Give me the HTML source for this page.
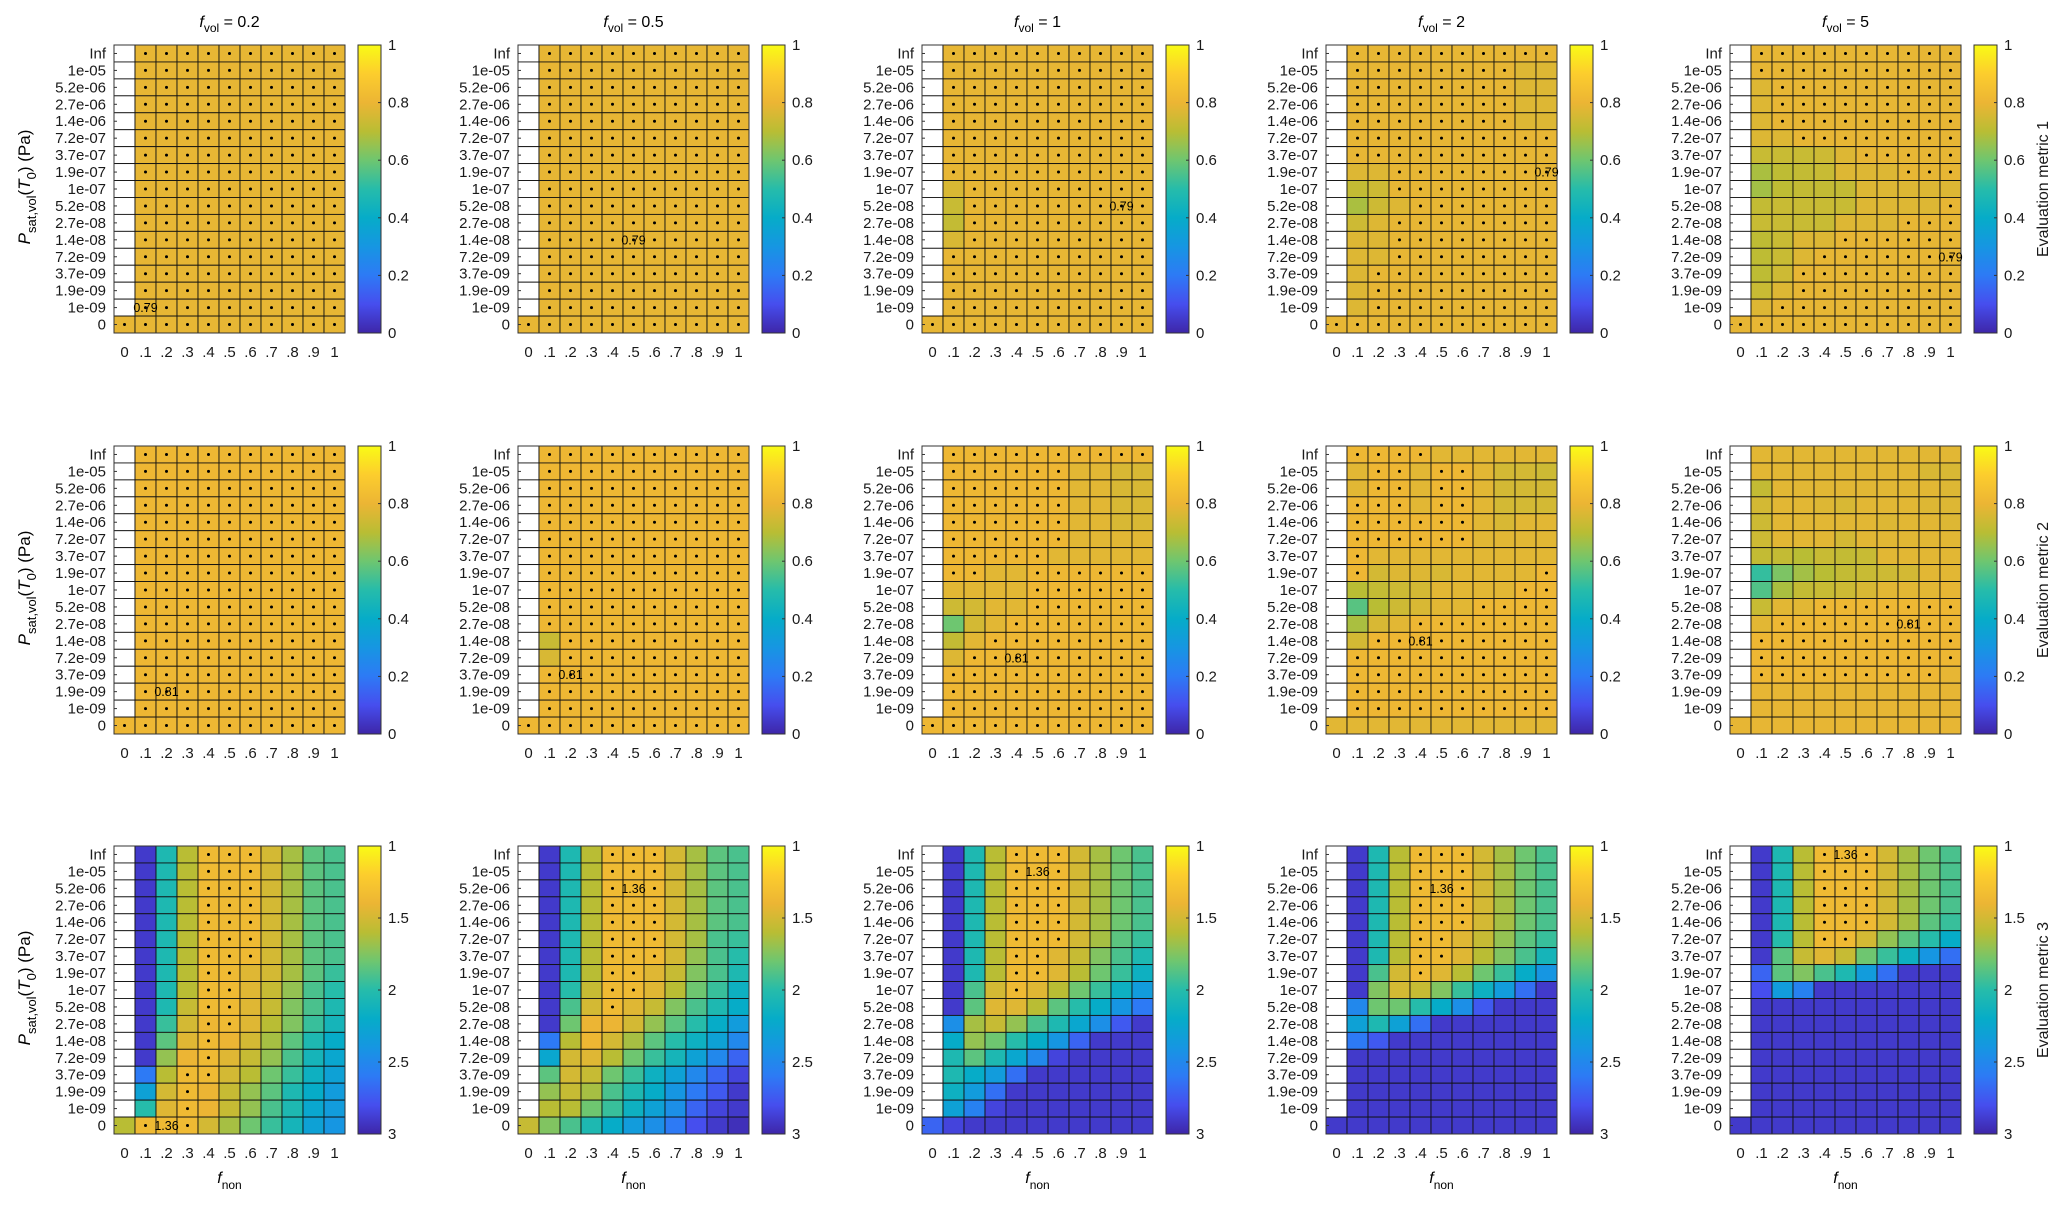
<!DOCTYPE html>
<html><head><meta charset="utf-8"><style>
html,body{margin:0;padding:0;background:#fff;}
svg{display:block;font-family:"Liberation Sans",Arial,sans-serif;}
</style></head><body>
<svg id="fig" width="2067" height="1212" viewBox="0 0 2067 1212" xmlns="http://www.w3.org/2000/svg"></svg>
<script>
const _ = null;
const yCategories = ['Inf','1e-05','5.2e-06','2.7e-06','1.4e-06','7.2e-07','3.7e-07','1.9e-07','1e-07','5.2e-08','2.7e-08','1.4e-08','7.2e-09','3.7e-09','1.9e-09','1e-09','0'];
const xCategories = ['0','.1','.2','.3','.4','.5','.6','.7','.8','.9','1'];
const fvolTitles = ['0.2','0.5','1','2','5'];
const metricNames = ['Evaluation metric 1','Evaluation metric 2','Evaluation metric 3'];
const cbTicks12 = [0,0.2,0.4,0.6,0.8,1];
const cbTicks3 = [1,1.5,2,2.5,3];

const A='.xxxxxxxxxx', F='xxxxxxxxxxx';
// ---------- metric 1 ----------
const m1p1 = [[_,.79,.79,.79,.79,.79,.79,.79,.79,.79,.79],[_,.79,.79,.79,.79,.79,.79,.79,.79,.79,.79],[_,.79,.79,.79,.79,.79,.79,.79,.79,.79,.79],[_,.79,.79,.79,.79,.79,.79,.79,.79,.79,.79],[_,.79,.79,.79,.79,.79,.79,.79,.79,.79,.79],[_,.79,.79,.79,.79,.79,.79,.79,.79,.79,.79],[_,.79,.79,.79,.79,.79,.79,.79,.79,.79,.79],[_,.79,.79,.79,.79,.79,.79,.79,.79,.79,.79],[_,.79,.79,.79,.79,.79,.79,.79,.79,.79,.79],[_,.79,.79,.79,.79,.79,.79,.79,.79,.79,.79],[_,.79,.79,.79,.79,.79,.79,.79,.79,.79,.79],[_,.79,.79,.79,.79,.79,.79,.79,.79,.79,.79],[_,.79,.79,.79,.79,.79,.79,.79,.79,.79,.79],[_,.79,.79,.79,.79,.79,.79,.79,.79,.79,.79],[_,.79,.79,.79,.79,.79,.79,.79,.79,.79,.79],[_,.79,.79,.79,.79,.79,.79,.79,.79,.79,.79],[.79,.79,.79,.79,.79,.79,.79,.79,.79,.79,.79]];
const m1p1dots = [A,A,A,A,A,A,A,A,A,A,A,A,A,A,A,A,F];
const m1p2 = m1p1.map(r=>r.slice());
const m1p2dots = m1p1dots.slice();
const m1p3 = [[_,.79,.79,.79,.79,.79,.79,.79,.79,.79,.79],[_,.79,.79,.79,.79,.79,.79,.79,.79,.79,.79],[_,.79,.79,.79,.79,.79,.79,.79,.79,.79,.79],[_,.79,.79,.79,.79,.79,.79,.79,.79,.79,.79],[_,.79,.79,.79,.79,.79,.79,.79,.79,.79,.79],[_,.79,.79,.79,.79,.79,.79,.79,.79,.79,.79],[_,.79,.79,.79,.79,.79,.79,.79,.79,.79,.79],[_,.79,.79,.79,.79,.79,.79,.79,.79,.79,.79],[_,.76,.79,.79,.79,.79,.79,.79,.79,.79,.79],[_,.73,.79,.79,.79,.79,.79,.79,.79,.79,.79],[_,.72,.79,.79,.79,.79,.79,.79,.79,.79,.79],[_,.76,.79,.79,.79,.79,.79,.79,.79,.79,.79],[_,.79,.79,.79,.79,.79,.79,.79,.79,.79,.79],[_,.79,.79,.79,.79,.79,.79,.79,.79,.79,.79],[_,.79,.79,.79,.79,.79,.79,.79,.79,.79,.79],[_,.79,.79,.79,.79,.79,.79,.79,.79,.79,.79],[.79,.79,.79,.79,.79,.79,.79,.79,.79,.79,.79]];
const m1p3dots = [A,A,A,A,A,A,A,A,'..xxxxxxxxx','..xxxxxxxxx','..xxxxxxxxx','..xxxxxxxxx',A,A,A,A,F];
const m1p4 = [[_,.79,.79,.79,.79,.79,.79,.79,.79,.79,.79],[_,.79,.79,.79,.79,.79,.79,.79,.79,.77,.77],[_,.79,.79,.79,.79,.79,.79,.79,.79,.77,.77],[_,.79,.79,.79,.79,.79,.79,.79,.79,.77,.77],[_,.79,.79,.79,.79,.79,.79,.79,.79,.77,.77],[_,.79,.79,.79,.79,.79,.79,.79,.79,.79,.79],[_,.79,.79,.79,.79,.79,.79,.79,.79,.79,.79],[_,.77,.77,.79,.79,.79,.79,.79,.79,.79,.79],[_,.72,.74,.79,.79,.79,.79,.79,.79,.79,.79],[_,.68,.74,.77,.79,.79,.79,.79,.79,.79,.79],[_,.74,.77,.79,.79,.79,.79,.79,.79,.79,.79],[_,.77,.77,.79,.79,.79,.79,.79,.79,.79,.79],[_,.77,.77,.79,.79,.79,.79,.79,.79,.79,.79],[_,.77,.79,.79,.79,.79,.79,.79,.79,.79,.79],[_,.77,.79,.79,.79,.79,.79,.79,.79,.79,.79],[_,.77,.79,.79,.79,.79,.79,.79,.79,.79,.79],[.79,.79,.79,.79,.79,.79,.79,.79,.79,.79,.79]];
const m1p4dots = [A,'.xxxxxxxx..','.xxxxxxxx..','.xxxxxxxx..','.xxxxxxxx..',A,A,'...xxxxxxxx','...xxxxxxxx','....xxxxxxx','...xxxxxxxx','...xxxxxxxx','...xxxxxxxx','..xxxxxxxxx','..xxxxxxxxx','..xxxxxxxxx',F];
const m1p5 = [[_,.79,.79,.79,.79,.79,.79,.79,.79,.79,.79],[_,.79,.79,.79,.79,.79,.79,.79,.79,.79,.79],[_,.77,.79,.79,.79,.79,.79,.79,.79,.79,.79],[_,.77,.79,.79,.79,.79,.79,.79,.79,.79,.79],[_,.77,.79,.79,.79,.79,.79,.79,.79,.79,.79],[_,.77,.77,.79,.79,.79,.79,.79,.79,.79,.79],[_,.73,.73,.73,.74,.77,.79,.79,.79,.79,.79],[_,.68,.71,.72,.73,.77,.77,.77,.79,.79,.79],[_,.67,.71,.72,.72,.72,.77,.77,.77,.77,.77],[_,.72,.73,.73,.73,.73,.77,.77,.77,.77,.79],[_,.73,.73,.73,.73,.77,.77,.77,.79,.79,.79],[_,.71,.73,.77,.77,.79,.79,.79,.79,.79,.79],[_,.71,.73,.77,.79,.79,.79,.79,.79,.79,.79],[_,.71,.74,.79,.79,.79,.79,.79,.79,.79,.79],[_,.73,.77,.79,.79,.79,.79,.79,.79,.79,.79],[_,.77,.79,.79,.79,.79,.79,.79,.79,.79,.79],[.79,.79,.79,.79,.79,.79,.79,.79,.79,.79,.79]];
const m1p5dots = [A,A,'..xxxxxxxxx','..xxxxxxxxx','..xxxxxxxxx','...xxxxxxxx','......xxxxx','........xxx','...........','..........x','........xxx','.....xxxxxx','....xxxxxxx','...xxxxxxxx','...xxxxxxxx','..xxxxxxxxx',F];
// ---------- metric 2 ----------
const m2p1 = [[_,.81,.81,.81,.81,.81,.81,.81,.81,.81,.81],[_,.81,.81,.81,.81,.81,.81,.81,.81,.81,.81],[_,.81,.81,.81,.81,.81,.81,.81,.81,.81,.81],[_,.81,.81,.81,.81,.81,.81,.81,.81,.81,.81],[_,.81,.81,.81,.81,.81,.81,.81,.81,.81,.81],[_,.81,.81,.81,.81,.81,.81,.81,.81,.81,.81],[_,.81,.81,.81,.81,.81,.81,.81,.81,.81,.81],[_,.81,.81,.81,.81,.81,.81,.81,.81,.81,.81],[_,.81,.81,.81,.81,.81,.81,.81,.81,.81,.81],[_,.81,.81,.81,.81,.81,.81,.81,.81,.81,.81],[_,.81,.81,.81,.81,.81,.81,.81,.81,.81,.81],[_,.81,.81,.81,.81,.81,.81,.81,.81,.81,.81],[_,.81,.81,.81,.81,.81,.81,.81,.81,.81,.81],[_,.81,.81,.81,.81,.81,.81,.81,.81,.81,.81],[_,.81,.81,.81,.81,.81,.81,.81,.81,.81,.81],[_,.81,.81,.81,.81,.81,.81,.81,.81,.81,.81],[.81,.81,.81,.81,.81,.81,.81,.81,.81,.81,.81]];
const m2p1dots = [A,A,A,A,A,A,A,A,A,A,A,A,A,A,A,A,F];
const m2p2 = [[_,.81,.81,.81,.81,.81,.81,.81,.81,.81,.81],[_,.81,.81,.81,.81,.81,.81,.81,.81,.81,.81],[_,.81,.81,.81,.81,.81,.81,.81,.81,.81,.81],[_,.81,.81,.81,.81,.81,.81,.81,.81,.81,.81],[_,.81,.81,.81,.81,.81,.81,.81,.81,.81,.81],[_,.81,.81,.81,.81,.81,.81,.81,.81,.81,.81],[_,.81,.81,.81,.81,.81,.81,.81,.81,.81,.81],[_,.81,.81,.81,.81,.81,.81,.81,.81,.81,.81],[_,.81,.81,.81,.81,.81,.81,.81,.81,.81,.81],[_,.81,.81,.81,.81,.81,.81,.81,.81,.81,.81],[_,.81,.81,.81,.81,.81,.81,.81,.81,.81,.81],[_,.73,.81,.81,.81,.81,.81,.81,.81,.81,.81],[_,.76,.81,.81,.81,.81,.81,.81,.81,.81,.81],[_,.81,.81,.81,.81,.81,.81,.81,.81,.81,.81],[_,.81,.81,.81,.81,.81,.81,.81,.81,.81,.81],[_,.81,.81,.81,.81,.81,.81,.81,.81,.81,.81],[.81,.81,.81,.81,.81,.81,.81,.81,.81,.81,.81]];
const m2p2dots = [A,A,A,A,A,A,A,A,A,A,A,'..xxxxxxxxx','..xxxxxxxxx',A,A,A,F];
const m2p3 = [[_,.81,.81,.81,.81,.81,.81,.81,.81,.81,.81],[_,.81,.81,.81,.81,.81,.81,.78,.78,.76,.76],[_,.81,.81,.81,.81,.81,.81,.78,.78,.76,.76],[_,.81,.81,.81,.81,.81,.81,.78,.78,.76,.76],[_,.81,.81,.81,.81,.81,.81,.78,.78,.76,.76],[_,.81,.81,.81,.81,.81,.81,.78,.78,.78,.78],[_,.81,.81,.81,.81,.81,.78,.78,.78,.78,.78],[_,.81,.81,.78,.78,.81,.81,.81,.81,.81,.81],[_,.78,.78,.78,.78,.81,.81,.81,.81,.81,.81],[_,.74,.75,.78,.78,.81,.81,.81,.81,.81,.81],[_,.6,.75,.78,.81,.81,.81,.81,.81,.81,.81],[_,.72,.78,.81,.81,.81,.81,.81,.81,.81,.81],[_,.77,.81,.81,.81,.81,.81,.81,.81,.81,.81],[_,.81,.81,.81,.81,.81,.81,.81,.81,.81,.81],[_,.81,.81,.81,.81,.81,.81,.81,.81,.81,.81],[_,.81,.81,.81,.81,.81,.81,.81,.81,.81,.81],[.81,.81,.81,.81,.81,.81,.81,.81,.81,.81,.81]];
const m2p3dots = [A,'.xxxxxx....','.xxxxxx....','.xxxxxx....','.xxxxxx....','.xxxxxx....','.xxxxx.....','.xx..xxxxxx','.....xxxxxx','.....xxxxxx','....xxxxxxx','...xxxxxxxx','..xxxxxxxxx',A,A,A,F];
const m2p4 = [[_,.81,.81,.81,.81,.78,.78,.78,.78,.78,.78],[_,.78,.81,.81,.78,.81,.81,.78,.75,.75,.74],[_,.78,.81,.81,.78,.81,.81,.78,.75,.75,.75],[_,.81,.81,.81,.78,.81,.81,.78,.75,.75,.75],[_,.81,.81,.81,.81,.81,.81,.78,.76,.78,.78],[_,.81,.81,.81,.81,.81,.81,.78,.78,.78,.78],[_,.81,.78,.78,.78,.78,.78,.78,.78,.78,.78],[_,.81,.75,.77,.77,.76,.78,.78,.78,.78,.81],[_,.7,.72,.74,.75,.78,.78,.78,.78,.81,.81],[_,.57,.7,.74,.76,.78,.78,.81,.81,.81,.81],[_,.68,.76,.78,.81,.81,.81,.81,.81,.81,.81],[_,.75,.81,.81,.81,.81,.81,.81,.81,.81,.81],[_,.81,.81,.81,.81,.81,.81,.81,.81,.81,.81],[_,.81,.81,.81,.81,.81,.81,.81,.81,.81,.81],[_,.81,.81,.81,.81,.81,.81,.81,.81,.81,.81],[_,.81,.81,.81,.81,.81,.81,.81,.81,.81,.81],[.78,.78,.78,.78,.78,.78,.78,.78,.78,.78,.78]];
const m2p4dots = ['.xxxx......','..xx.xx....','..xx.xx....','.xxx.xx....','.xxxxxx....','.xxxxxx....','.x.........','.x........x','.........xx','.......xxxx','....xxxxxxx','..xxxxxxxxx',A,A,A,A,'...........'];
const m2p5 = [[_,.78,.78,.78,.78,.78,.78,.78,.78,.78,.78],[_,.78,.78,.78,.78,.78,.78,.78,.78,.76,.76],[_,.72,.78,.78,.78,.78,.78,.78,.78,.78,.77],[_,.75,.78,.78,.77,.76,.78,.78,.78,.77,.77],[_,.74,.78,.78,.78,.78,.78,.77,.78,.78,.77],[_,.74,.78,.78,.78,.75,.78,.78,.78,.78,.78],[_,.72,.72,.7,.73,.72,.73,.78,.78,.78,.78],[_,.52,.62,.67,.7,.72,.73,.74,.75,.78,.78],[_,.56,.68,.72,.73,.74,.76,.78,.78,.78,.79],[_,.73,.78,.78,.81,.81,.81,.81,.81,.81,.81],[_,.78,.81,.81,.81,.81,.81,.81,.81,.81,.81],[_,.81,.81,.81,.81,.81,.81,.81,.81,.81,.81],[_,.81,.81,.81,.81,.81,.81,.81,.81,.81,.81],[_,.81,.81,.81,.81,.81,.81,.81,.81,.81,.79],[_,.79,.79,.79,.79,.79,.79,.79,.79,.79,.79],[_,.79,.79,.79,.79,.79,.79,.79,.79,.79,.79],[.79,.79,.79,.79,.79,.79,.79,.79,.79,.79,.79]];
const m2p5dots = ['...........','...........','...........','...........','...........','...........','...........','...........','...........','....xxxxxxx','..xxxxxxxxx',A,A,'.xxxxxxxxx.','...........','...........','...........'];
// ---------- metric 3 ----------
const m3p1 = [[_,2.9,2.05,1.6,1.36,1.36,1.36,1.5,1.65,1.85,1.9],[_,2.9,2.05,1.6,1.36,1.36,1.36,1.5,1.65,1.85,1.9],[_,2.9,2.05,1.6,1.36,1.36,1.36,1.5,1.65,1.85,1.9],[_,2.9,2.05,1.6,1.36,1.36,1.36,1.5,1.65,1.85,1.9],[_,2.9,2.05,1.6,1.36,1.36,1.36,1.5,1.65,1.85,1.9],[_,2.9,2.05,1.6,1.36,1.36,1.36,1.5,1.65,1.85,1.9],[_,2.9,2.05,1.6,1.36,1.36,1.36,1.5,1.65,1.85,1.9],[_,2.9,2.05,1.6,1.36,1.36,1.45,1.5,1.65,1.85,1.95],[_,2.9,2.05,1.6,1.36,1.36,1.45,1.55,1.7,1.9,2.0],[_,2.9,2.05,1.55,1.36,1.36,1.45,1.55,1.75,1.9,2.05],[_,2.9,1.95,1.5,1.38,1.36,1.45,1.6,1.75,1.95,2.1],[_,2.9,1.85,1.45,1.36,1.4,1.5,1.65,1.85,2.05,2.2],[_,2.9,1.7,1.4,1.36,1.45,1.55,1.7,1.9,2.1,2.25],[_,2.6,1.6,1.36,1.36,1.5,1.6,1.8,1.95,2.15,2.3],[_,2.3,1.5,1.36,1.4,1.55,1.7,1.85,2.05,2.2,2.35],[_,2.0,1.45,1.36,1.4,1.55,1.7,1.9,2.05,2.25,2.35],[1.6,1.36,1.36,1.36,1.5,1.65,1.8,1.95,2.1,2.3,2.4]];
const m3p1dots = ['....xxx....','....xxx....','....xxx....','....xxx....','....xxx....','....xxx....','....xxx....','....xx.....','....xx.....','....xx.....','....xx.....','....x......','....x......','...xx......','...x.......','...x.......','.x.x.......'];
const m3p2 = [[_,2.9,2.05,1.6,1.36,1.36,1.36,1.5,1.65,1.85,1.9],[_,2.9,2.05,1.6,1.36,1.36,1.36,1.5,1.65,1.85,1.9],[_,2.9,2.05,1.6,1.36,1.36,1.36,1.5,1.65,1.85,1.9],[_,2.9,2.05,1.6,1.36,1.36,1.36,1.5,1.65,1.85,1.9],[_,2.9,2.05,1.6,1.36,1.36,1.36,1.5,1.65,1.85,1.9],[_,2.9,2.05,1.6,1.36,1.36,1.36,1.5,1.65,1.9,1.95],[_,2.9,2.05,1.6,1.36,1.36,1.36,1.5,1.7,1.9,2.0],[_,2.9,2.05,1.6,1.36,1.36,1.45,1.55,1.75,1.9,2.05],[_,2.9,2.0,1.55,1.36,1.36,1.45,1.6,1.8,1.95,2.15],[_,2.9,1.9,1.5,1.36,1.45,1.55,1.75,1.9,2.05,2.2],[_,2.9,1.8,1.4,1.4,1.5,1.7,1.85,2.0,2.2,2.35],[_,2.6,1.6,1.38,1.5,1.65,1.85,2.0,2.15,2.3,2.5],[_,2.25,1.5,1.45,1.6,1.8,1.95,2.1,2.3,2.5,2.7],[_,1.85,1.5,1.55,1.8,1.95,2.15,2.3,2.5,2.7,2.85],[_,1.7,1.55,1.65,1.9,2.05,2.2,2.4,2.6,2.75,2.9],[_,1.6,1.6,1.8,1.95,2.15,2.3,2.45,2.7,2.85,2.9],[1.55,1.75,1.9,2.05,2.2,2.35,2.45,2.6,2.8,2.9,2.95]];
const m3p2dots = ['....xxx....','....xxx....','....x.x....','....xxx....','....xxx....','....xxx....','....xxx....','....xx.....','....xx.....','....x......','...........','...........','...........','...........','...........','...........','...........'];
const m3p3 = [[_,2.9,2.05,1.6,1.36,1.36,1.36,1.5,1.65,1.8,1.9],[_,2.9,2.05,1.6,1.36,1.36,1.36,1.5,1.65,1.8,1.9],[_,2.9,2.05,1.6,1.36,1.36,1.36,1.5,1.65,1.8,1.9],[_,2.9,2.05,1.6,1.36,1.36,1.36,1.5,1.65,1.8,1.9],[_,2.9,2.05,1.6,1.36,1.36,1.36,1.5,1.65,1.8,1.9],[_,2.9,2.05,1.6,1.36,1.36,1.36,1.5,1.65,1.85,1.95],[_,2.9,2.05,1.6,1.36,1.36,1.45,1.55,1.75,1.9,2.05],[_,2.9,2.05,1.6,1.36,1.36,1.45,1.6,1.8,1.95,2.15],[_,2.9,1.9,1.5,1.36,1.45,1.6,1.8,1.95,2.15,2.35],[_,2.9,1.85,1.45,1.45,1.6,1.85,2.0,2.2,2.4,2.6],[_,2.45,1.65,1.55,1.7,1.9,2.05,2.25,2.45,2.75,2.9],[_,2.2,1.7,1.8,2.0,2.2,2.4,2.7,2.9,2.9,2.9],[_,2.05,1.85,2.05,2.25,2.5,2.85,2.9,2.9,2.9,2.9],[_,2.05,2.2,2.35,2.65,2.9,2.9,2.9,2.9,2.9,2.9],[_,2.15,2.35,2.65,2.9,2.9,2.9,2.9,2.9,2.9,2.9],[_,2.3,2.55,2.85,2.9,2.9,2.9,2.9,2.9,2.9,2.9],[2.7,2.85,2.9,2.9,2.9,2.9,2.9,2.9,2.9,2.9,2.9]];
const m3p3dots = ['....xxx....','....x.x....','....xxx....','....xxx....','....xxx....','....xxx....','....xx.....','....xx.....','....x......','...........','...........','...........','...........','...........','...........','...........','...........'];
const m3p4 = [[_,2.9,2.05,1.6,1.36,1.36,1.36,1.5,1.65,1.8,1.9],[_,2.9,2.05,1.6,1.36,1.36,1.36,1.5,1.65,1.8,1.9],[_,2.9,2.05,1.6,1.36,1.36,1.36,1.5,1.65,1.8,1.9],[_,2.9,2.05,1.6,1.36,1.36,1.36,1.5,1.65,1.8,1.9],[_,2.9,2.05,1.6,1.36,1.36,1.36,1.5,1.65,1.8,1.9],[_,2.9,2.05,1.6,1.36,1.36,1.45,1.55,1.7,1.85,1.95],[_,2.9,2.05,1.6,1.36,1.36,1.45,1.6,1.75,1.9,2.1],[_,2.9,1.9,1.5,1.36,1.45,1.6,1.8,1.95,2.2,2.4],[_,2.9,1.75,1.5,1.55,1.75,1.95,2.15,2.35,2.65,2.9],[_,2.5,1.8,1.8,2.0,2.2,2.45,2.75,2.9,2.9,2.9],[_,2.3,2.05,2.3,2.65,2.9,2.9,2.9,2.9,2.9,2.9],[_,2.6,2.75,2.9,2.9,2.9,2.9,2.9,2.9,2.9,2.9],[_,2.9,2.9,2.9,2.9,2.9,2.9,2.9,2.9,2.9,2.9],[_,2.9,2.9,2.9,2.9,2.9,2.9,2.9,2.9,2.9,2.9],[_,2.9,2.9,2.9,2.9,2.9,2.9,2.9,2.9,2.9,2.9],[_,2.9,2.9,2.9,2.9,2.9,2.9,2.9,2.9,2.9,2.9],[2.9,2.9,2.9,2.9,2.9,2.9,2.9,2.9,2.9,2.9,2.9]];
const m3p4dots = ['....xxx....','....xxx....','....x.x....','....xxx....','....xxx....','....xx.....','....xx.....','....x......','...........','...........','...........','...........','...........','...........','...........','...........','...........'];
const m3p5 = [[_,2.9,2.05,1.6,1.36,1.36,1.36,1.5,1.65,1.8,1.9],[_,2.9,2.05,1.6,1.36,1.36,1.36,1.5,1.65,1.8,1.9],[_,2.9,2.05,1.6,1.36,1.36,1.36,1.5,1.65,1.8,1.9],[_,2.9,2.05,1.6,1.36,1.36,1.36,1.5,1.65,1.8,1.9],[_,2.9,2.05,1.6,1.36,1.36,1.36,1.5,1.65,1.85,1.95],[_,2.9,2.0,1.6,1.36,1.36,1.5,1.7,1.85,2.0,2.2],[_,2.9,1.85,1.55,1.45,1.55,1.8,1.95,2.15,2.4,2.65],[_,2.7,1.85,1.75,1.9,2.05,2.35,2.65,2.9,2.9,2.9],[_,2.8,2.35,2.55,2.9,2.9,2.9,2.9,2.9,2.9,2.9],[_,2.9,2.9,2.9,2.9,2.9,2.9,2.9,2.9,2.9,2.9],[_,2.9,2.9,2.9,2.9,2.9,2.9,2.9,2.9,2.9,2.9],[_,2.9,2.9,2.9,2.9,2.9,2.9,2.9,2.9,2.9,2.9],[_,2.9,2.9,2.9,2.9,2.9,2.9,2.9,2.9,2.9,2.9],[_,2.9,2.9,2.9,2.9,2.9,2.9,2.9,2.9,2.9,2.9],[_,2.9,2.9,2.9,2.9,2.9,2.9,2.9,2.9,2.9,2.9],[_,2.9,2.9,2.9,2.9,2.9,2.9,2.9,2.9,2.9,2.9],[2.9,2.9,2.9,2.9,2.9,2.9,2.9,2.9,2.9,2.9,2.9]];
const m3p5dots = ['....x.x....','....xxx....','....xxx....','....xxx....','....xxx....','....xx.....','...........','...........','...........','...........','...........','...........','...........','...........','...........','...........','...........'];

// best-cell labels: [row, col, text]
const bestLabels = [
 [[15,1,'0.79'],[11,5,'0.79'],[9,9,'0.79'],[7,10,'0.79'],[12,10,'0.79']],
 [[14,2,'0.81'],[13,2,'0.81'],[12,4,'0.81'],[11,4,'0.81'],[10,8,'0.81']],
 [[16,2,'1.36'],[2,5,'1.36'],[1,5,'1.36'],[2,5,'1.36'],[0,5,'1.36']]
];
const panelValues = [[m1p1,m1p2,m1p3,m1p4,m1p5],[m2p1,m2p2,m2p3,m2p4,m2p5],[m3p1,m3p2,m3p3,m3p4,m3p5]];
const panelDots = [[m1p1dots,m1p2dots,m1p3dots,m1p4dots,m1p5dots],[m2p1dots,m2p2dots,m2p3dots,m2p4dots,m2p5dots],[m3p1dots,m3p2dots,m3p3dots,m3p4dots,m3p5dots]];

// ---------- rendering ----------
const NS='http://www.w3.org/2000/svg';
const svg=document.getElementById('fig');
function mk(tag,attrs,parent){const e=document.createElementNS(NS,tag);for(const k in attrs)e.setAttribute(k,attrs[k]);(parent||svg).appendChild(e);return e;}
const stops=[[0,[62,38,168]],[0.1,[70,78,238]],[0.2,[45,122,245]],[0.3,[22,150,226]],[0.4,[6,172,200]],[0.5,[38,188,170]],[0.6,[110,198,112]],[0.7,[185,189,52]],[0.8,[236,181,52]],[0.9,[252,205,45]],[1,[249,251,21]]];
function parula(t){t=Math.max(0,Math.min(1,t));for(let i=1;i<stops.length;i++){if(t<=stops[i][0]){const a=stops[i-1],b=stops[i];const f=(t-a[0])/(b[0]-a[0]);const c=a[1].map((v,k)=>Math.round(v+(b[1][k]-v)*f));return 'rgb('+c.join(',')+')';}}return 'rgb(249,251,21)';}
const defs=mk('defs',{});
const grad=mk('linearGradient',{id:'cbgrad',x1:0,y1:1,x2:0,y2:0},defs);
for(let i=0;i<=20;i++){mk('stop',{offset:(i/20),'stop-color':parula(i/20)},grad);}

const lefts=[114,518,922,1326,1730], tops=[45,446,846], PW=231, PH=288;
const nR=yCategories.length, nC=xCategories.length;
function xScale(p,c){return lefts[p]+c*PW/nC;}
function yScale(r,r0){return tops[r0]+r*PH/nR;}
function colorOf(row,v){return row<2?parula(v):parula((3-v)/2);}

for(let r=0;r<3;r++){
 for(let p=0;p<5;p++){
  const g=mk('g',{});
  
  
  const vals=panelValues[r][p], dots=panelDots[r][p];
  const cw=PW/nC, ch=PH/nR;
  for(let i=0;i<nR;i++)for(let j=0;j<nC;j++){
   const v=vals[i][j];
   const rc=mk('rect',{x:xScale(p,j),y:yScale(i,r),width:cw,height:ch,fill:v===null?'#ffffff':colorOf(r,v),stroke:'#111',
     'stroke-width':0.9},g);
   
   
   if(dots[i][j]==='x'){
    const d=mk('circle',{cx:xScale(p,j)+cw/2,cy:yScale(i,r)+ch/2,r:1.5,fill:'#000'},g);
    
    
   }
  }
  mk('rect',{x:lefts[p],y:tops[r],width:PW,height:PH,fill:'none',stroke:'#333','stroke-width':1},g);
  // best label
  const bl=bestLabels[r][p];
  const lt=mk('text',{x:xScale(p,bl[1])+cw/2,y:yScale(bl[0],r)+ch/2+4.5,'text-anchor':'middle','font-size':12.5,fill:'#000'},g);
  lt.textContent=bl[2];
  
  
  // y ticks
  for(let i=0;i<nR;i++){
   const yy=yScale(i,r)+ch/2;
   mk('line',{x1:lefts[p],x2:lefts[p]+3,y1:yy,y2:yy,stroke:'#333','stroke-width':1},g);
   const t=mk('text',{x:lefts[p]-8,y:yy+5,'text-anchor':'end','font-size':15,fill:'#1a1a1a'},g);
   t.textContent=yCategories[i];
   
   
  }
  for(let j=0;j<nC;j++){
   const t=mk('text',{x:xScale(p,j)+cw/2,y:tops[r]+PH+24,'text-anchor':'middle','font-size':15,fill:'#1a1a1a'},g);
   t.textContent=xCategories[j];
   
   
  }
  // colorbar
  const cbx=lefts[p]+244, cby=tops[r];
  const cbr=mk('rect',{x:cbx,y:cby,width:23,height:PH,fill:'url(#cbgrad)',stroke:'#333','stroke-width':1},g);
  
  
  const ticks=r<2?cbTicks12:cbTicks3;
  ticks.forEach(tv=>{
   const f=r<2?tv:(3-tv)/2;
   const yy=cby+PH-f*PH;
   mk('line',{x1:cbx+20,x2:cbx+23,y1:yy,y2:yy,stroke:'#333','stroke-width':1},g);
   const t=mk('text',{x:cbx+30,y:yy+5,'font-size':15,fill:'#1a1a1a'},g);
   t.textContent=String(tv);
   
   
  });
 }
}
// titles
for(let p=0;p<5;p++){
 const t=mk('text',{x:lefts[p]+PW/2,y:27,'text-anchor':'middle','font-size':16,fill:'#000'});
 t.innerHTML='<tspan font-style="italic">f</tspan><tspan font-size="12" dy="5">vol</tspan><tspan dy="-5"> = '+fvolTitles[p]+'</tspan>';
 
 
 const xt=mk('text',{x:lefts[p]+PW/2,y:1183,'text-anchor':'middle','font-size':16,fill:'#000'});
 xt.innerHTML='<tspan font-style="italic">f</tspan><tspan font-size="12" dy="6">non</tspan>';
 
 
}
for(let r=0;r<3;r++){
 const cy=tops[r]+PH/2;
 const yt=mk('text',{x:0,y:0,'text-anchor':'middle','font-size':17,fill:'#000',transform:'translate(30,'+(cy-2)+') rotate(-90)'});
 yt.innerHTML='<tspan font-style="italic">P</tspan><tspan font-size="13" dy="6">sat,vol</tspan><tspan dy="-6">(</tspan><tspan font-style="italic">T</tspan><tspan font-size="13" dy="6">0</tspan><tspan dy="-6">) (Pa)</tspan>';
 
 
 const ct=mk('text',{x:0,y:0,'text-anchor':'middle','font-size':16,fill:'#1a1a1a',transform:'translate(2048,'+cy+') rotate(-90)'});
 ct.textContent=metricNames[r];
 
 
}
</script>
</body></html>
